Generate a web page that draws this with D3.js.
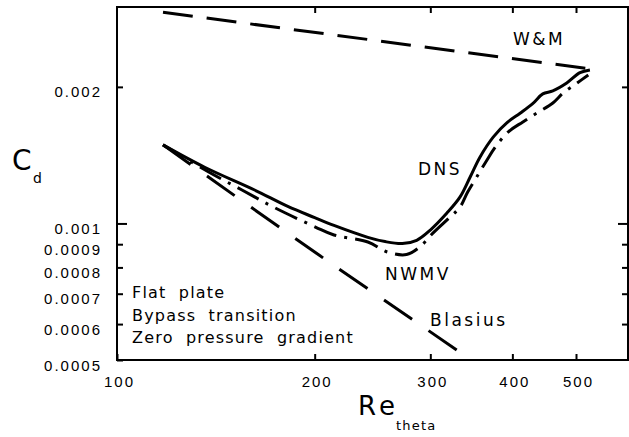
<!DOCTYPE html>
<html>
<head>
<meta charset="utf-8">
<script src="https://cdn.jsdelivr.net/npm/d3@7"></script>
<style>
  body { margin: 0; background: #fff; }
  svg { font-family: "DejaVu Sans", sans-serif; }
  .tick text { font-size: 15px; letter-spacing: 2px; fill: #000; }
  .tick line { stroke: #000; stroke-width: 2px; }
  .note { font-size: 17px; letter-spacing: 2.5px; }
  .corner { font-size: 16px; letter-spacing: 1.2px; word-spacing: 6px; }
</style>
</head>
<body>
<div id="chart"></div>
<script>
// tick values
var xTicks = [100, 200, 300, 400, 500];
var yTicks = [0.0005, 0.0006, 0.0007, 0.0008, 0.0009, 0.001, 0.002];

// W&M (straight dashed)
var reWM = [117.5, 527];
var cdWM = [0.00292, 0.00219];

// Blasius laminar
var reBlasius = [117.5, 200, 333];
var cdBlasius = [0.00149, 0.000865, 0.00052];

// DNS (solid)
var reDNS = [117.5, 136, 162, 182, 200, 214, 241, 256, 272, 286, 300, 318, 333, 345, 357, 374, 393, 411, 430, 445, 461, 484, 507, 525];
var cdDNS = [0.00149, 0.00133, 0.001185, 0.00109, 0.00103, 0.00099, 0.000932, 0.000912, 0.000903, 0.000918, 0.000967, 0.001054, 0.001144, 0.001266, 0.0014, 0.00155, 0.00167, 0.00175, 0.00184, 0.00193, 0.00196, 0.00204, 0.00215, 0.00218];

// NWMV (dash-dot)
var reNWMV = [117.5, 137.7, 155, 173, 200.5, 214, 241, 258, 276, 289, 303, 321.5, 333, 342, 353, 366, 376, 394, 415, 436, 461, 478, 502, 522];
var cdNWMV = [0.00149, 0.0013, 0.001185, 0.001087, 0.000982, 0.000943, 0.00091, 0.000865, 0.000854, 0.000887, 0.000953, 0.001033, 0.001087, 0.001173, 0.001266, 0.00138, 0.001467, 0.00159, 0.001674, 0.001752, 0.001843, 0.001939, 0.00204, 0.002125];

var W = 629, H = 437;
var pLeft = 117, pRight = 628, pTop = 7, pBottom = 360;

var svg = d3.select("#chart").append("svg")
  .attr("width", W)
  .attr("height", H);

var x = d3.scaleLog().domain([100, 600]).range([pLeft, pRight]);
var y = d3.scaleLog().domain([0.0005, 0.003]).range([pBottom, pTop]);

// axes, ticks pointing inward
var gx = svg.append("g")
  .attr("transform", "translate(0," + pBottom + ")")
  .call(d3.axisBottom(x).tickValues(xTicks).tickFormat(d => d).tickSize(-6).tickPadding(16));
gx.selectAll("text").attr("dx", 2);

var gy = svg.append("g")
  .attr("transform", "translate(" + pLeft + ",0)")
  .call(d3.axisLeft(y).tickValues(yTicks).tickFormat(d => String(d)).tickSize(-6).tickPadding(15));
gy.selectAll("text").attr("dy", "0.67em");

svg.append("g")
  .attr("transform", "translate(0," + pTop + ")")
  .call(d3.axisTop(x).tickValues(xTicks.slice(1)).tickFormat("").tickSize(-6));

svg.append("g")
  .attr("transform", "translate(" + pRight + ",0)")
  .call(d3.axisRight(y).tickValues(yTicks.slice(1)).tickFormat("").tickSize(-6));

svg.selectAll(".domain").remove();

// longer tick at 0.001
svg.selectAll(".tick").filter(d => d === 0.001).select("line")
  .attr("x2", function() { return +d3.select(this).attr("x2") > 0 ? 10 : -10; });

// frame
svg.append("rect")
  .attr("x", pLeft).attr("y", pTop)
  .attr("width", pRight - pLeft).attr("height", pBottom - pTop)
  .attr("fill", "none")
  .attr("stroke", "#000")
  .attr("stroke-width", 2);

function pts(re, cd) { return re.map((r, i) => [r, cd[i]]); }

var line = d3.line()
  .x(d => x(d[0]))
  .y(d => y(d[1]))
  .curve(d3.curveCatmullRom);

var plot = svg.append("g")
  .attr("fill", "none")
  .attr("stroke", "#000")
  .attr("stroke-linecap", "butt");

plot.append("path").datum(pts(reWM, cdWM))
  .attr("d", line).attr("stroke-width", 3).attr("stroke-dasharray", "30,14");

plot.append("path").datum(pts(reBlasius, cdBlasius))
  .attr("d", line).attr("stroke-width", 3).attr("stroke-dasharray", "34,20");

plot.append("path").datum(pts(reNWMV, cdNWMV))
  .attr("d", line).attr("stroke-width", 3).attr("stroke-dasharray", "24,8,3,8");

plot.append("path").datum(pts(reDNS, cdDNS))
  .attr("d", line).attr("stroke-width", 3);

// curve labels
var notes = [["W&M", 513, 45], ["DNS", 418, 175], ["NWMV", 385, 280], ["Blasius", 430, 326]];
svg.selectAll(".note").data(notes).enter().append("text")
  .attr("class", "note")
  .attr("x", d => d[1])
  .attr("y", d => d[2])
  .text(d => d[0]);

var corner = ["Flat plate", "Bypass transition", "Zero pressure gradient"];
svg.selectAll(".corner").data(corner).enter().append("text")
  .attr("class", "corner")
  .attr("x", 132)
  .attr("y", (d, i) => 298 + i * 22.5)
  .text(d => d);

// axis titles
svg.append("text").attr("x", 12).attr("y", 170)
  .style("font-size", "28px").text("C");
svg.append("text").attr("x", 33).attr("y", 183)
  .style("font-size", "14px").text("d");

svg.append("text").attr("x", 358).attr("y", 415)
  .style("font-size", "26px").style("letter-spacing", "4px").text("Re");
svg.append("text").attr("x", 396).attr("y", 430)
  .style("font-size", "13px").style("letter-spacing", "1.2px").text("theta");
</script>
</body>
</html>
